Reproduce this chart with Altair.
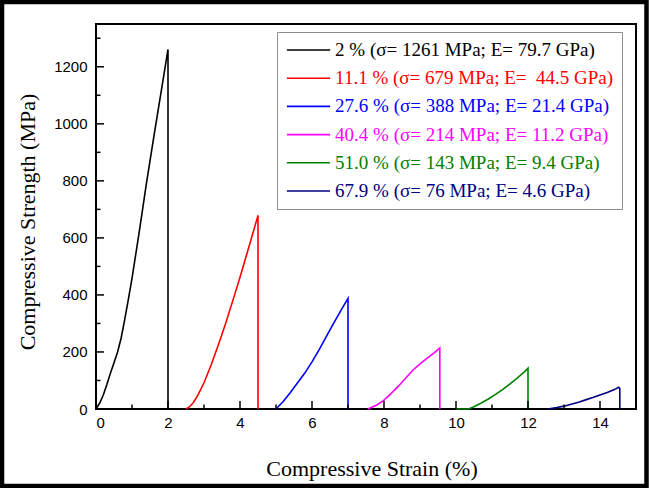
import altair as alt
import pandas as pd

# ---- data ----
labels = [
    "2 % (σ= 1261 MPa; E= 79.7 GPa)",
    "11.1 % (σ= 679 MPa; E= \u00a044.5 GPa)",
    "27.6 % (σ= 388 MPa; E= 21.4 GPa)",
    "40.4 % (σ= 214 MPa; E= 11.2 GPa)",
    "51.0 % (σ= 143 MPa; E= 9.4 GPa)",
    "67.9 % (σ= 76 MPa; E= 4.6 GPa)",
]
colors = ["#000000", "#ff0000", "#0000ff", "#ff00ff", "#008000", "#000080"]

black_x = [0, 0.1, 0.2, 0.3, 0.4, 0.5, 0.6, 0.7, 0.8, 0.9, 1.0, 1.2, 1.4, 1.6, 1.8, 2.0, 2.0]
black_y = [0, 20, 48, 85, 125, 162, 200, 250, 315, 385, 458, 620, 790, 950, 1105, 1261, 0]

red_x = [2.5, 2.6, 2.7, 2.8, 2.9, 3.0, 3.2, 3.4, 3.6, 3.8, 4.0, 4.2, 4.4, 4.5, 4.5]
red_y = [0, 8, 22, 42, 66, 92, 155, 225, 300, 380, 462, 548, 635, 679, 0]

blue_x = [5.0, 5.2, 5.4, 5.6, 5.8, 6.0, 6.2, 6.4, 6.6, 6.8, 7.0, 7.0]
blue_y = [0, 26, 58, 92, 126, 165, 208, 255, 300, 345, 388, 0]

magenta_x = [7.55, 7.8, 8.0, 8.2, 8.4, 8.6, 8.8, 9.0, 9.2, 9.4, 9.55, 9.55]
magenta_y = [0, 14, 31, 55, 80, 108, 136, 158, 178, 198, 214, 0]

green_x = [10.0, 10.35, 10.5, 10.7, 10.9, 11.1, 11.3, 11.5, 11.7, 11.9, 12.0, 12.0]
green_y = [0, 0, 8, 21, 35, 51, 69, 88, 108, 130, 143, 0]

navy_x = [12.55, 12.8, 13.0, 13.2, 13.4, 13.6, 13.8, 14.0, 14.2, 14.4, 14.52, 14.55, 14.55]
navy_y = [0, 5, 10, 17, 24, 32, 40, 49, 58, 68, 76, 72, 0]

x_major = [0, 2, 4, 6, 8, 10, 12, 14]
x_minor = [1, 3, 5, 7, 9, 11, 13]
y_major = [0, 200, 400, 600, 800, 1000, 1200]
y_minor = [100, 300, 500, 700, 900, 1100, 1300]

# ---- build table ----
series_x = [black_x, red_x, blue_x, magenta_x, green_x, navy_x]
series_y = [black_y, red_y, blue_y, magenta_y, green_y, navy_y]
rows = []
for lab, xs, ys in zip(labels, series_x, series_y):
    for i, (xv, yv) in enumerate(zip(xs, ys)):
        rows.append({"series": lab, "strain": xv, "stress": yv, "order": i})
df = pd.DataFrame(rows)

# legend label colour expression built from the lists above
expr = "'black'"
for lab, col in reversed(list(zip(labels, colors))):
    expr = f"datum.label == '{lab}' ? '{col}' : ({expr})"

W, H = 540, 385
xscale = alt.Scale(domain=[0, 15], nice=False, zero=False)
yscale = alt.Scale(domain=[0, 1350], nice=False, zero=False)

lines = alt.Chart(df).mark_line(strokeWidth=1.6).encode(
    x=alt.X("strain:Q", scale=xscale,
            axis=alt.Axis(values=x_major, format="d", title="Compressive Strain (%)",
                          titleX=275.5, titleY=66, titleBaseline="alphabetic",
                          titleAlign="center", labelPadding=6)),
    y=alt.Y("stress:Q", scale=yscale,
            axis=alt.Axis(values=y_major, format="d", title="Compressive Strength (MPa)",
                          titleX=-62, titleY=197.5, titleBaseline="alphabetic",
                          titleAlign="center", titleAngle=270, labelPadding=9)),
    color=alt.Color("series:N", scale=alt.Scale(domain=labels, range=colors),
                    legend=alt.Legend(
                        title=None, orient="none", legendX=181, legendY=8,
                        symbolType="M-2.4,0H2.4", symbolSize=324, symbolStrokeWidth=1.6,
                        symbolOffset=13.5,
                        labelFont="Liberation Serif", labelFontSize=19, labelLimit=500,
                        labelOffset=16.6, padding=8, rowPadding=8.2,
                        strokeColor="#8c8c8c", fillColor="white",
                        labelColor=alt.ExprRef(expr),
                    )),
    order="order:Q",
)

xmaj = alt.Chart(pd.DataFrame({"v": x_major})).mark_rule(color="black", strokeWidth=1.5).encode(
    x=alt.X("v:Q", scale=xscale), y=alt.value(H), y2=alt.value(H - 8))
xmin = alt.Chart(pd.DataFrame({"v": x_minor})).mark_rule(color="black", strokeWidth=1.5).encode(
    x=alt.X("v:Q", scale=xscale), y=alt.value(H), y2=alt.value(H - 4.5))
ymaj = alt.Chart(pd.DataFrame({"v": y_major})).mark_rule(color="black", strokeWidth=1.5).encode(
    y=alt.Y("v:Q", scale=yscale), x=alt.value(0), x2=alt.value(8))
ymin = alt.Chart(pd.DataFrame({"v": y_minor})).mark_rule(color="black", strokeWidth=1.5).encode(
    y=alt.Y("v:Q", scale=yscale), x=alt.value(0), x2=alt.value(4.5))

border = alt.Chart(alt.Data(values=[{}])).mark_rect(
    fillOpacity=0, stroke="black", strokeWidth=4.5).encode(
    x=alt.value(-96 + 2), x2=alt.value(649 - 96 - 2.5),
    y=alt.value(-24 + 2), y2=alt.value(488 - 24 - 2))

chart = alt.layer(lines, xmaj, xmin, ymaj, ymin, border).properties(
    width=W, height=H,
    autosize=alt.AutoSizeParams(type="none"),
    padding={"left": 96, "top": 24, "right": 13, "bottom": 79},
    background="white",
).configure_view(
    stroke="black", strokeWidth=2
).configure_axis(
    grid=False, ticks=False, domain=False,
    labelFont="Liberation Sans", labelFontSize=15, labelColor="black",
    titleFont="Liberation Serif", titleFontSize=22, titleFontWeight="normal",
    titleColor="black",
)

chart.save("out.html", embed_options={"renderer": "svg", "actions": False})
